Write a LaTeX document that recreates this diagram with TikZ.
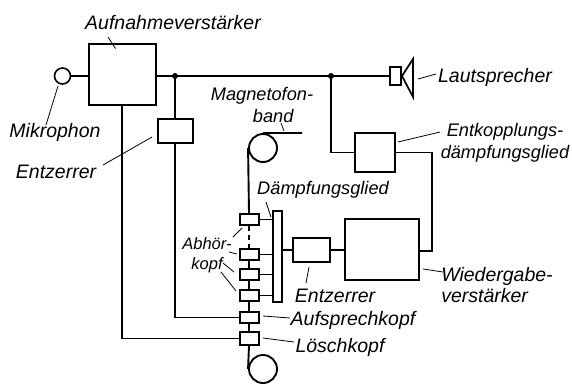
\documentclass[tikz,border=0pt]{standalone}
\usepackage{fontspec}
\setmainfont{Liberation Sans}
\tikzset{
  wire/.style={line width=1.9pt},
  leader/.style={line width=0.8pt},
  blockbox/.style={draw, line width=2pt, inner sep=0pt, fill=white},
  headbox/.style={blockbox, minimum width=19pt},
  rollc/.style={draw, circle, line width=1.9pt, inner sep=0pt, minimum size=28pt},
  lbl/.style={font=\itshape\fontsize{19.5}{21}\selectfont, inner sep=0pt, align=center},
  lblnarrow/.style={lbl, font=\itshape\fontsize{18.2}{22}\selectfont},
  lblsmall/.style={lbl, font=\itshape\fontsize{16.5}{20}\selectfont},
  jdot/.style={circle, fill=black, inner sep=0pt, minimum size=6pt}
}
\begin{document}
\begin{tikzpicture}[x=1pt, y=-1pt]
\useasboundingbox (0,0) rectangle (572,383);
% wires first, the boxes sit on top
\node[blockbox, minimum width=67pt, minimum height=61pt] (amp) at (122,74.5) {};
\node[draw, circle, line width=1.6pt, inner sep=0pt, minimum size=16pt] (mic) at (62.5,76) {};
\node[blockbox, minimum width=35pt, minimum height=24pt] (eq1) at (175,131) {};
\node[blockbox, minimum width=11pt, minimum height=18pt] (spk) at (395.5,76) {};
\node[blockbox, minimum width=40pt, minimum height=39pt] (dec) at (375,152.5) {};
\node[blockbox, minimum width=74pt, minimum height=61pt] (play) at (382,249.5) {};
\node[blockbox, minimum width=37pt, minimum height=24pt] (eq2) at (311.5,250) {};
\node[blockbox, minimum width=9pt, minimum height=91pt] (att) at (277.5,256.5) {};
\node[rollc] (roll1) at (263,148) {};
\node[rollc] (roll2) at (263,369) {};
\node[headbox, minimum height=11pt] (h1) at (249,219.5) {};
\node[headbox, minimum height=11pt] (h2) at (249,254.5) {};
\node[headbox, minimum height=11pt] (h3) at (249,274.5) {};
\node[headbox, minimum height=11pt] (h4) at (249,295.5) {};
\node[headbox, minimum height=11pt] (h5) at (249,317.5) {};
\node[headbox, minimum height=13pt] (h6) at (249,338.5) {};
\coordinate (j1) at (175,76);
\coordinate (j2) at (331,76);
\coordinate (tapeend) at (302,133);
\node[jdot] (dot1) at (j1) {};
\node[jdot] (dot2) at (j2) {};
% signal path
\draw[wire] (mic.east) -- (amp.west |- mic);
\draw[wire] (amp.east |- j1) -- (spk.west);
\draw[wire] (j1) -- (eq1.north);
\draw[wire] (eq1.south) |- (h5.west);
\draw[wire] (amp.south) |- (h6.west);
\draw[wire] (j2) |- (dec.west);
\draw[wire] (dec.east) -| (432,251) -- (play.east |- 432,251);
\draw[wire] (h1.east) -- (h1.east -| att.west);
\draw[wire] (h2.east) -- (h2.east -| att.west);
\draw[wire] (h3.east) -- (h3.east -| att.west);
\draw[wire] (h4.east) -- (h4.east -| att.west);
\draw[wire] (att.east |- eq2.west) -- (eq2.west);
\draw[wire] (eq2.east) -- (play.west |- eq2.east);
% tape
\draw[wire] (roll1.north) -- (tapeend);
\draw[wire] (roll1.west) -- (h1.north);
\draw[wire, dash pattern=on 5pt off 4pt] (h1.south) -- (h2.north);
\draw[wire] (h2.south) -- (h3.north);
\draw[wire] (h3.south) -- (h4.north);
\draw[wire] (h4.south) -- (h5.north);
\draw[wire] (h5.south) -- (h6.north);
\draw[wire] (h6.south) -- (roll2.west);
% speaker cone
\draw[line width=1.7pt, line join=miter] (spk.east) -- (413,59) -- (413,97) -- cycle;
% labels
\node[lbl] (lamp) at (173,23) {Aufnahmeverstärker};
\node[lbl] (lmic) at (55,132) {Mikrophon};
\node[lbl] (leq1) at (56,172) {Entzerrer};
\node[lblnarrow, align=left] (ltape) at (262,105) {Magnetofon-\\\hspace*{42pt}band};
\node[lbl] (lspk) at (495,77) {Lautsprecher};
\node[lblnarrow] (ldec) at (505,143) {Entkopplungs-\\dämpfungsglied};
\node[lblnarrow] (latt) at (323,190) {Dämpfungsglied};
\node[lblsmall] (lmon) at (207,255) {Abhör-\\kopf};
\node[lbl] (leq2) at (335,296) {Entzerrer};
\node[lbl] (lrec) at (353,320) {Aufsprechkopf};
\node[lbl] (ldel) at (340,347) {Löschkopf};
\node[lbl, align=left] (lplay) at (497,285) {Wiedergabe-\\verstärker};
% leaders
\draw[leader] ([shift={(-65,14)}]lamp.center) -- ([shift={(-6.5,-26)}]amp.center);
\draw[leader] ([shift={(-9,-7)}]lmic.center) -- ([shift={(-4.5,10)}]mic.center);
\draw[leader] ([shift={(47,-7)}]leq1.center) -- ([shift={(-23,6)}]eq1.center);
\draw[leader] ([shift={(19,18)}]ltape.center) -- ([shift={(21,-17)}]roll1.center);
\draw[leader] ([shift={(-59,-3)}]lspk.center) -- ([shift={(22.5,3)}]spk.center);
\draw[leader] ([shift={(-65,-11)}]ldec.center) -- ([shift={(23,-10.5)}]dec.center);
\draw[leader] ([shift={(-57,12)}]latt.center) -- ([shift={(-6.5,-39.5)}]att.center);
\draw[leader] ([shift={(26,-18)}]lmon.center) -- ([shift={(-7,8.5)}]h1.center);
\draw[leader] ([shift={(22,-3)}]lmon.center) -- ([shift={(-12,-0.5)}]h2.center);
\draw[leader] ([shift={(16,8)}]lmon.center) -- ([shift={(-15,-2.5)}]h3.center);
\draw[leader] ([shift={(14,17)}]lmon.center) -- ([shift={(-13,-4.5)}]h4.center);
\draw[leader] ([shift={(-29,-13)}]leq2.center) -- ([shift={(-2.5,17)}]eq2.center);
\draw[leader] ([shift={(-63,-2)}]lrec.center) -- ([shift={(14,-1.5)}]h5.center);
\draw[leader] ([shift={(-46,-5)}]ldel.center) -- ([shift={(14,-0.5)}]h6.center);
\draw[leader] ([shift={(-54,-13)}]lplay.center) -- ([shift={(41,19.5)}]play.center);
\end{tikzpicture}
\end{document}
